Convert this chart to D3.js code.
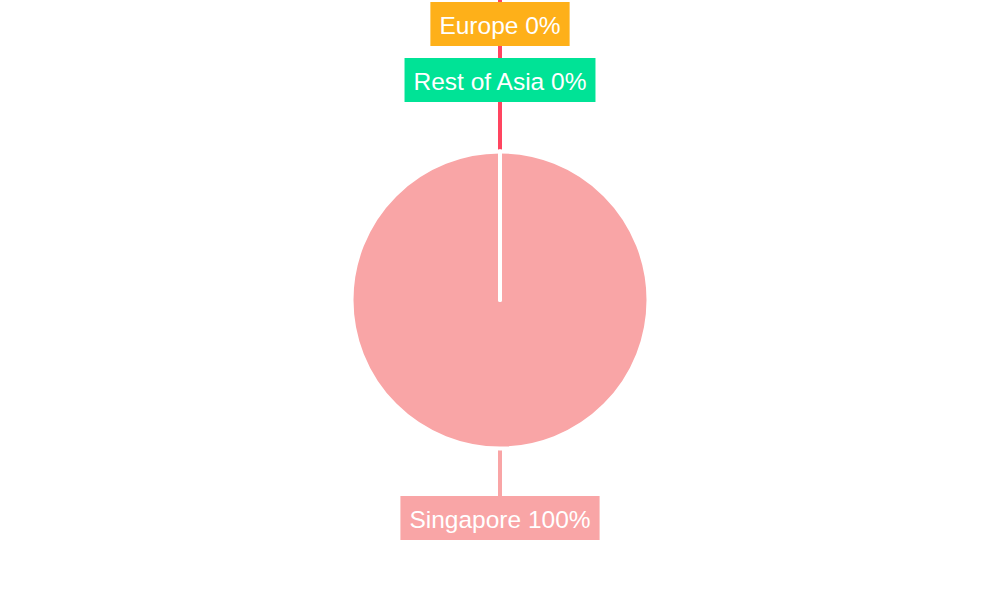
<!DOCTYPE html>
<html>
<head>
<meta charset="utf-8">
<script src="https://cdn.jsdelivr.net/npm/d3@7"></script>
<style>
  html, body { margin: 0; padding: 0; background: #fff; }
  svg { display: block; }
</style>
</head>
<body>
<div id="chart"></div>
<script>
// Chart data.
var categories = ["Singapore", "Rest of Asia", "Europe"];
var shares = [100, 0, 0];
var sliceColors = ["#f9a5a6", "#00e396", "#feb019"];
var overflowColor = "#ff4560";          // leader of a zero slice whose label is off the top

var width = 1000,
    height = 600,
    cx = 500,
    cy = 300,
    radius = 148.5,
    labelFont = "'Liberation Sans', Arial, sans-serif",
    labelSize = 24.5,
    padX = 9,
    boxHeight = 44,
    leaderWidth = 4;

var svg = d3.select("#chart").append("svg")
            .attr("width", width)
            .attr("height", height);

var pie = d3.pie().sort(null).value(function(d) { return d.value; });
var arc = d3.arc().innerRadius(0).outerRadius(radius);

var data = categories.map(function(c, i) {
  return { name: c, value: shares[i], color: sliceColors[i] };
});
var arcs = pie(data);

var leaders = svg.append("g"),
    slices = svg.append("g").attr("transform", "translate(" + cx + "," + cy + ")"),
    labels = svg.append("g");

// Slices; zero slices collapse to a white radial line.
slices.selectAll("path")
      .data(arcs)
      .join("path")
      .attr("d", arc)
      .attr("fill", function(d) { return d.data.color; })
      .attr("stroke", "#fff")
      .attr("stroke-width", 4)
      .attr("stroke-linejoin", "round");

// Work out where each label box sits.
// Non-zero slices go below the pie, zero slices stack upward from the top.
var topY = cy - radius - 49.5;          // bottom edge of the first stacked box above
var placed = [];
arcs.forEach(function(a) {
  if (a.data.value > 0) {
    placed.push({ d: a, top: cy + radius + 47.5, lineFrom: cy + radius + 0.5, lineTo: cy + radius + 47.5 });
  } else {
    placed.push({ d: a, top: topY - boxHeight, lineFrom: cy - radius - 2, lineTo: topY });
    topY -= boxHeight + 12;
  }
});

// Leader lines.
leaders.selectAll("line.leader")
       .data(placed)
       .join("line")
       .attr("class", "leader")
       .attr("x1", cx).attr("x2", cx)
       .attr("y1", function(p) { return p.lineFrom; })
       .attr("y2", function(p) { return p.lineTo; })
       .attr("stroke", function(p) { return p.d.value > 0 ? p.d.data.color : overflowColor; })
       .attr("stroke-width", leaderWidth);

leaders.append("line")
       .attr("x1", cx).attr("x2", cx)
       .attr("y1", cy - radius - 2)
       .attr("y2", 0)
       .attr("stroke", overflowColor)
       .attr("stroke-width", leaderWidth);

// Label boxes.
var label = labels.selectAll("g")
                  .data(placed)
                  .join("g");

label.append("rect")
     .attr("y", function(p) { return p.top; })
     .attr("height", boxHeight)
     .attr("fill", function(p) { return p.d.data.color; });

label.append("text")
     .attr("x", cx)
     .attr("y", function(p) { return p.top + boxHeight / 2 + 1; })
     .attr("text-anchor", "middle")
     .attr("dominant-baseline", "central")
     .attr("font-family", labelFont)
     .attr("font-size", labelSize)
     .attr("fill", "#fff")
     .text(function(p) { return p.d.data.name + " " + p.d.data.value + "%"; });

label.each(function() {
  var g = d3.select(this),
      w = g.select("text").node().getComputedTextLength() + 2 * padX;
  g.select("rect").attr("x", cx - w / 2).attr("width", w);
});
</script>
</body>
</html>
